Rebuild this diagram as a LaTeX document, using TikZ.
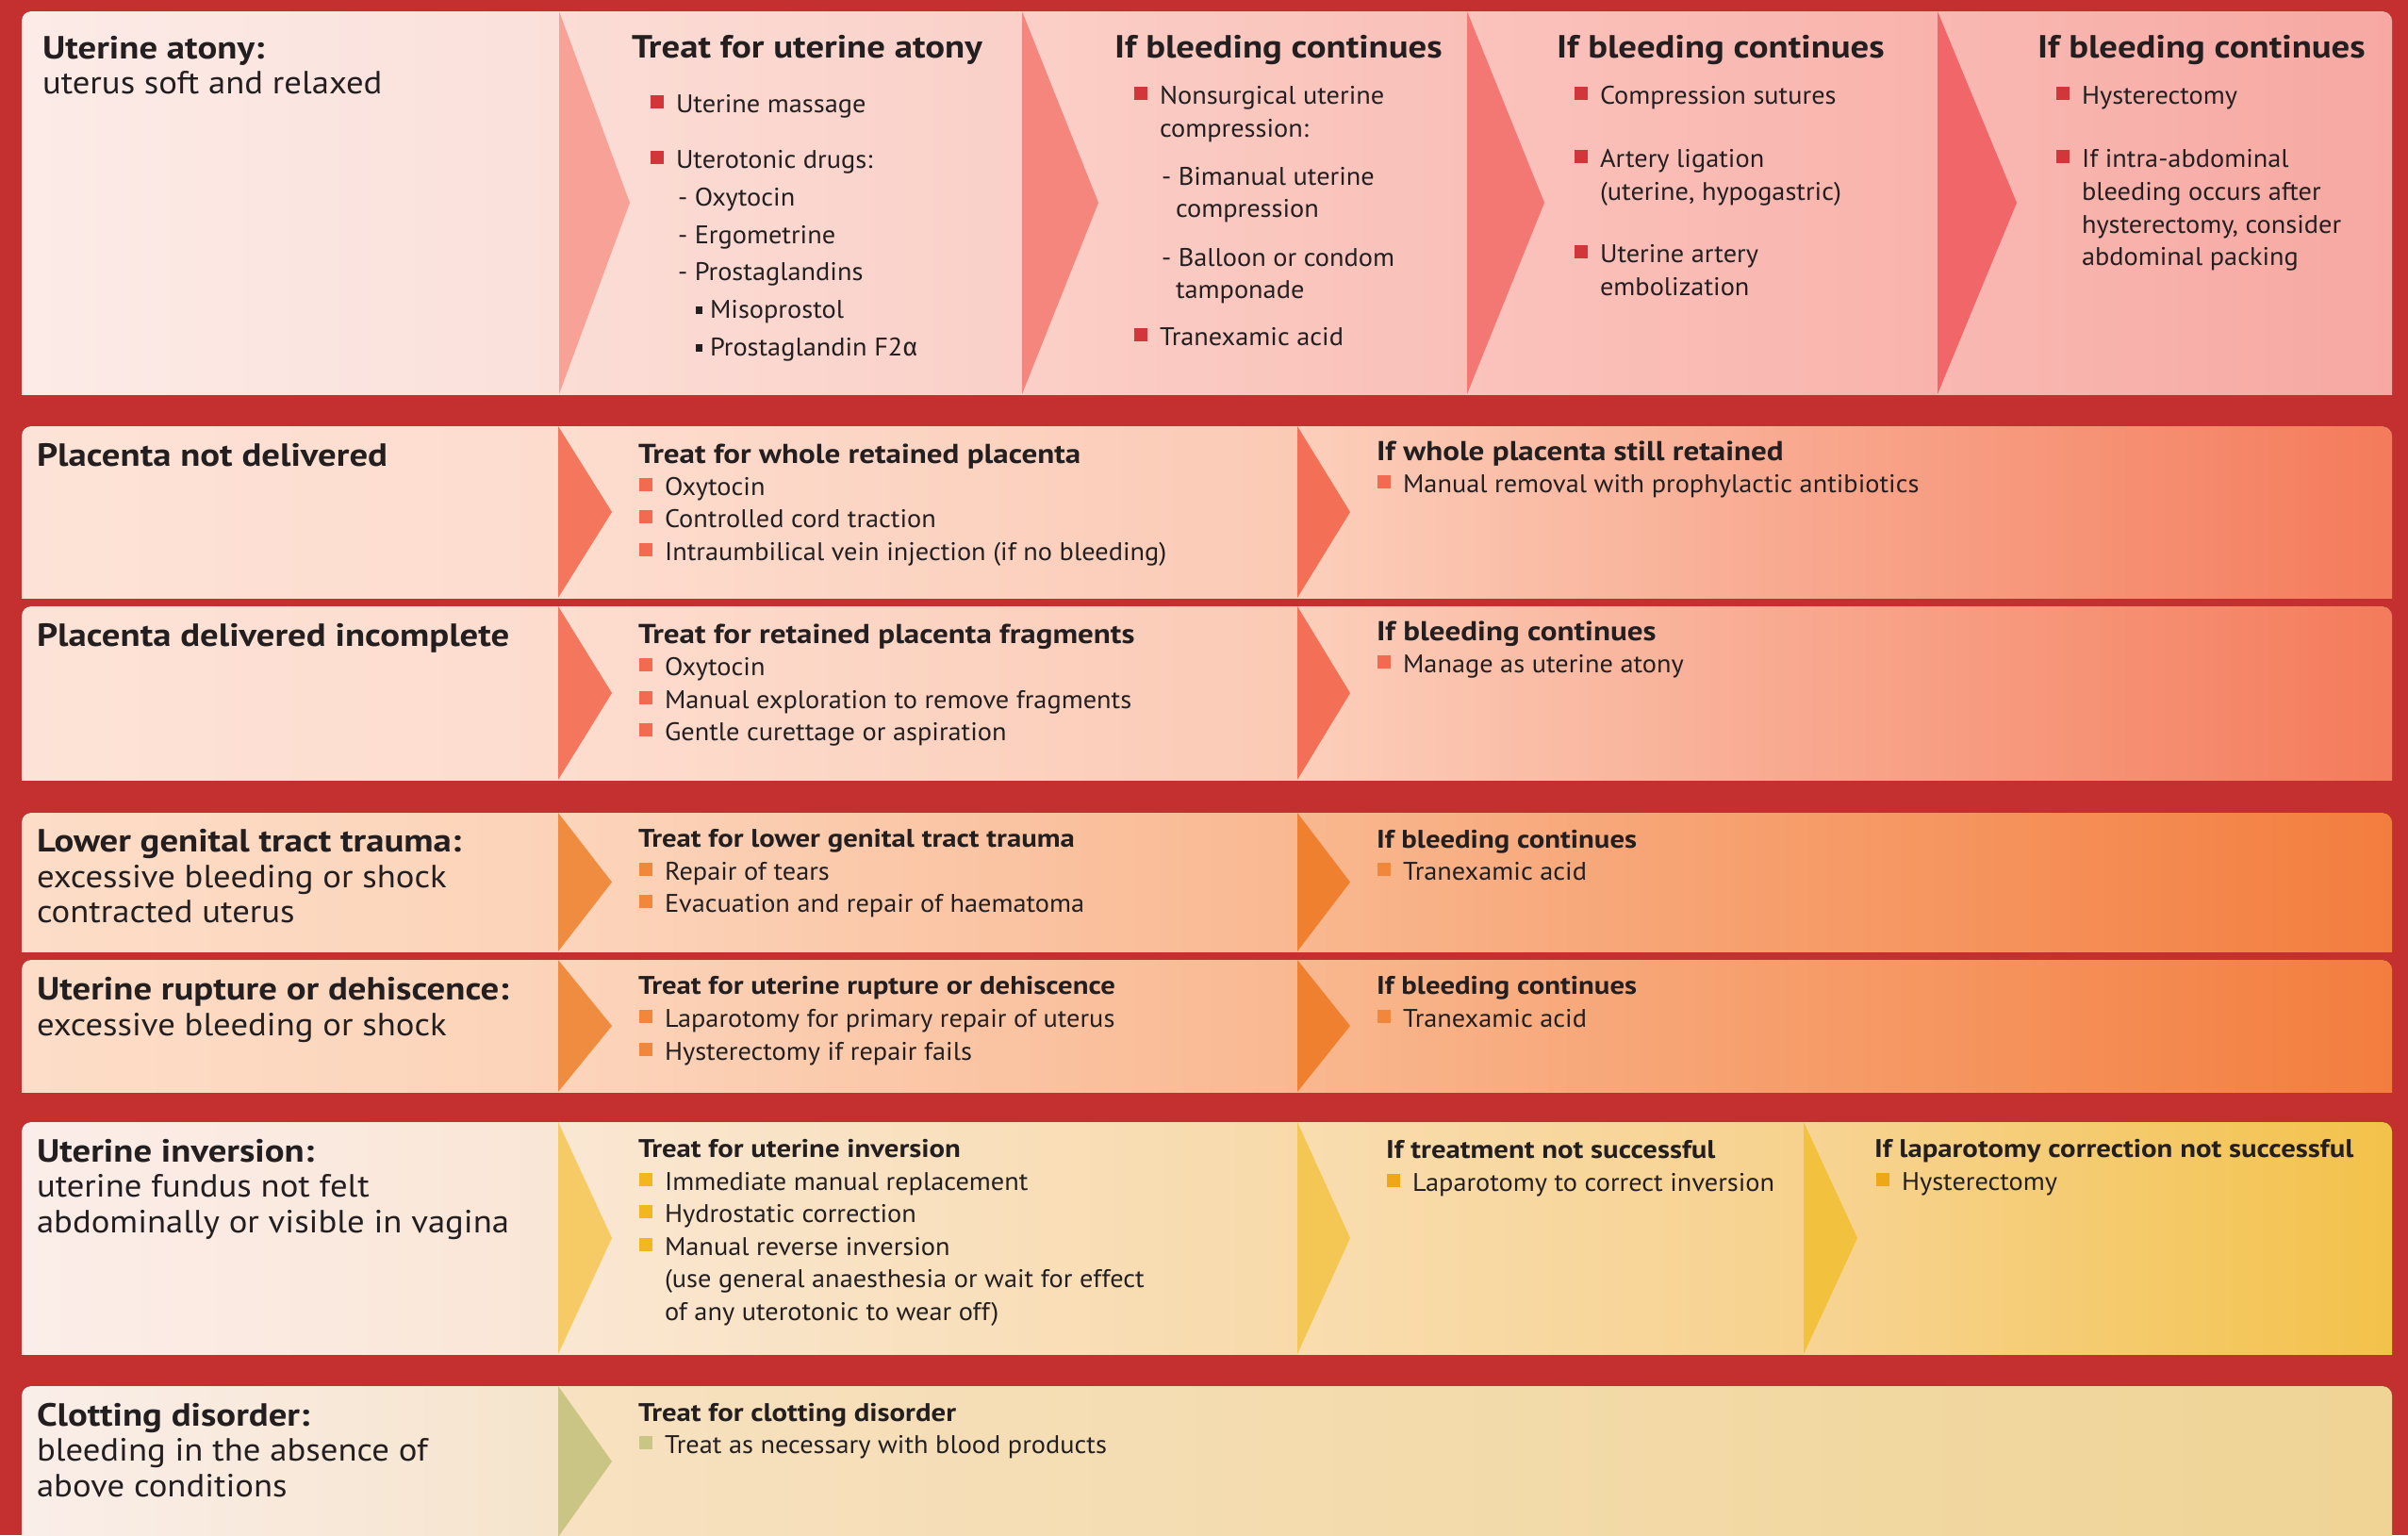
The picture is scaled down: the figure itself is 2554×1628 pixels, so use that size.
\documentclass[tikz,border=0pt]{standalone}
\usepackage{fontspec}
\setmainfont{PT Sans}
\newfontfamily\rgf{PT Sans}[FakeStretch=1.05]
\newfontfamily\sbf{PT Sans}[FakeStretch=1.08]
\newfontfamily\bdf{PT Sans}[FakeStretch=1.14]
\newfontfamily\grk{Fira Sans}
\usetikzlibrary{calc}
\definecolor{bgred}{HTML}{C4302F}
\definecolor{ink}{HTML}{231F20}
% row 1
\definecolor{ra1}{HTML}{FCEBE7}\definecolor{ra2}{HTML}{FBE0DA}
\definecolor{ra3}{HTML}{FBDDD6}\definecolor{ra4}{HTML}{FAD0C8}
\definecolor{ra5}{HTML}{FBCFC7}\definecolor{ra6}{HTML}{F9C0B8}
\definecolor{ra7}{HTML}{FAC3BC}\definecolor{ra8}{HTML}{F9B3AC}
\definecolor{ra9}{HTML}{F9B8B2}\definecolor{ra10}{HTML}{F7A8A2}
\definecolor{raA}{HTML}{F8A297}\definecolor{raB}{HTML}{F5867E}
\definecolor{raC}{HTML}{F37773}\definecolor{raD}{HTML}{F06669}
\definecolor{rbul}{HTML}{D2363A}
% rows 2-3
\definecolor{pa1}{HTML}{FDE3D7}\definecolor{pa2}{HTML}{FDDCCE}
\definecolor{pa3}{HTML}{FDDDCF}\definecolor{pa4}{HTML}{FBCAB5}
\definecolor{pa5}{HTML}{FCCFBB}\definecolor{pa6}{HTML}{F47B5B}
\definecolor{paA}{HTML}{F4765C}\definecolor{paB}{HTML}{F36F55}
\definecolor{pbul}{HTML}{F26B50}
% rows 4-5
\definecolor{oa1}{HTML}{FDDDC8}\definecolor{oa2}{HTML}{FCD3B8}
\definecolor{oa3}{HTML}{FCD5BC}\definecolor{oa4}{HTML}{F9B891}
\definecolor{oa5}{HTML}{F9B890}\definecolor{oa6}{HTML}{F37D3E}
\definecolor{oaA}{HTML}{F08C40}\definecolor{oaB}{HTML}{EF8030}
\definecolor{obul}{HTML}{F0873A}
% row 6
\definecolor{ya1}{HTML}{FBEDE9}\definecolor{ya2}{HTML}{FAE6D6}
\definecolor{ya3}{HTML}{FAE7D3}\definecolor{ya4}{HTML}{F8DAAA}
\definecolor{ya5}{HTML}{F9DDB0}\definecolor{ya6}{HTML}{F7D28E}
\definecolor{ya7}{HTML}{F7D495}\definecolor{ya8}{HTML}{F3C24A}
\definecolor{yaA}{HTML}{F6CA64}\definecolor{yaB}{HTML}{F4C653}\definecolor{yaC}{HTML}{F2C23E}
\definecolor{ybul}{HTML}{F2B61E}\definecolor{ybulb}{HTML}{EFA815}
% row 7
\definecolor{ga1}{HTML}{FAEEE9}\definecolor{ga2}{HTML}{F6E4CC}
\definecolor{ga3}{HTML}{F7E1C0}\definecolor{ga4}{HTML}{EFD495}
\definecolor{gaA}{HTML}{CAC585}\definecolor{gbul}{HTML}{C8C585}

\tikzset{
  txt/.style={inner sep=0pt, outer sep=0pt, anchor=base west, text=ink},
  ttl/.style={txt, font=\fontsize{34}{37}\selectfont\bdf\bfseries},
  sub/.style={txt, font=\fontsize{34}{37}\selectfont\sbf},
  hd/.style={txt, font=\fontsize{29}{32}\selectfont\bdf\bfseries},
  hds/.style={txt, font=\fontsize{27}{30}\selectfont\bdf\bfseries},
  bd/.style={txt, font=\fontsize{27}{30}\selectfont\rgf},
}
% panel: x1 x2 y1 y2 colL colR
\newcommand\pnl[6]{\fill[left color=#5,right color=#6] (#1,#3) rectangle (#2,#4);}
% arrow: xl xt y1 y2 col
\newcommand\arw[5]{\fill[#5] (#1,#3) -- (#2,{(#3+#4)/2}) -- (#1,#4) -- cycle;}
\newcommand\rowclip[2]{\clip (23,#1) rectangle (2537,#2);\clip[rounded corners=10pt] (23,#1) rectangle (2537,#2+30);}
% bullet item: name colour x y text
\newcommand\bit[5]{\node[bd] (#1) at (#3,#4) {#5};
  \fill[#2] ($(#1.base west)+(-27,-4)$) rectangle ++(14,-14);}
\newcommand\lin[4]{\node[bd] (#1) at (#2,#3) {#4};}
\newcommand\sbit[4]{\node[bd] (#1) at (#2,#3) {#4};
  \fill[ink] ($(#1.base west)+(-15,-4)$) rectangle ++(7,-8);}

\begin{document}
\begin{tikzpicture}[x=1pt,y=-1pt]
\useasboundingbox (0,0) rectangle (2554,1628);
\fill[bgred] (0,0) rectangle (2554,1628);

% ---------- Row 1 ----------
\begin{scope}
\rowclip{12}{418}
\pnl{23}{593}{12}{418}{ra1}{ra2}
\pnl{593}{1084}{12}{418}{ra3}{ra4}
\pnl{1084}{1556}{12}{418}{ra5}{ra6}
\pnl{1556}{2055}{12}{418}{ra7}{ra8}
\pnl{2055}{2537}{12}{418}{ra9}{ra10}
\arw{593}{668}{12}{418}{raA}
\arw{1084}{1165}{12}{418}{raB}
\arw{1556}{1638}{12}{418}{raC}
\arw{2055}{2139}{12}{418}{raD}
\end{scope}
\node[ttl] (t1) at (45,62) {Uterine atony:};
\node[sub] (t1b) at (45,99) {uterus soft and relaxed};
\node[ttl] (h1a) at (670,61) {Treat for uterine atony};
\bit{a1}{rbul}{717}{119}{Uterine massage}
\bit{a2}{rbul}{717}{178}{Uterotonic drugs:}
\lin{a3}{719}{218}{- Oxytocin}
\lin{a4}{719}{258}{- Ergometrine}
\lin{a5}{719}{297}{- Prostaglandins}
\sbit{a6}{753}{337}{Misoprostol}
\sbit{a7}{753}{377}{Prostaglandin F2{\grk α}}

\node[ttl] (h1b) at (1182,61) {If bleeding continues};
\bit{b1}{rbul}{1230}{110}{Nonsurgical uterine}
\lin{b2}{1230}{145}{compression:}
\lin{b3}{1232}{196}{- Bimanual uterine}
\lin{b4}{1247}{230}{compression}
\lin{b5}{1232}{282}{- Balloon or condom}
\lin{b6}{1247}{316}{tamponade}
\bit{b7}{rbul}{1230}{366}{Tranexamic acid}

\node[ttl] (h1c) at (1651,61) {If bleeding continues};
\bit{c1}{rbul}{1697}{110}{Compression sutures}
\bit{c2}{rbul}{1697}{177}{Artery ligation}
\lin{c3}{1697}{212}{(uterine, hypogastric)}
\bit{c4}{rbul}{1697}{278}{Uterine artery}
\lin{c5}{1697}{313}{embolization}

\node[ttl] (h1d) at (2161,61) {If bleeding continues};
\bit{d1}{rbul}{2208}{110}{Hysterectomy}
\bit{d2}{rbul}{2208}{177}{If intra-abdominal}
\lin{d3}{2208}{212}{bleeding occurs after}
\lin{d4}{2208}{247}{hysterectomy, consider}
\lin{d5}{2208}{281}{abdominal packing}

% ---------- Row 2 ----------
\begin{scope}
\rowclip{452}{634}
\pnl{23}{592}{452}{634}{pa1}{pa2}
\pnl{592}{1376}{452}{634}{pa3}{pa4}
\pnl{1376}{2537}{452}{634}{pa5}{pa6}
\arw{592}{649}{452}{634}{paA}
\arw{1376}{1432}{452}{634}{paB}
\end{scope}
\node[ttl] (t2) at (39,494) {Placenta not delivered};
\node[hd] (h2a) at (677,491) {Treat for whole retained placenta};
\bit{e1}{pbul}{705}{525}{Oxytocin}
\bit{e2}{pbul}{705}{559}{Controlled cord traction}
\bit{e3}{pbul}{705}{594}{Intraumbilical vein injection (if no bleeding)}
\node[hd] (h2b) at (1460,488) {If whole placenta still retained};
\bit{e4}{pbul}{1488}{522}{Manual removal with prophylactic antibiotics}

% ---------- Row 3 ----------
\begin{scope}
\rowclip{643}{827}
\pnl{23}{592}{643}{827}{pa1}{pa2}
\pnl{592}{1376}{643}{827}{pa3}{pa4}
\pnl{1376}{2537}{643}{827}{pa5}{pa6}
\arw{592}{649}{643}{827}{paA}
\arw{1376}{1432}{643}{827}{paB}
\end{scope}
\node[ttl] (t3) at (39,685) {Placenta delivered incomplete};
\node[hd] (h3a) at (677,682) {Treat for retained placenta fragments};
\bit{f1}{pbul}{705}{716}{Oxytocin}
\bit{f2}{pbul}{705}{751}{Manual exploration to remove fragments}
\bit{f3}{pbul}{705}{785}{Gentle curettage or aspiration}
\node[hd] (h3b) at (1460,679) {If bleeding continues};
\bit{f4}{pbul}{1488}{713}{Manage as uterine atony}

% ---------- Row 4 ----------
\begin{scope}
\rowclip{862}{1009}
\pnl{23}{592}{862}{1009}{oa1}{oa2}
\pnl{592}{1376}{862}{1009}{oa3}{oa4}
\pnl{1376}{2537}{862}{1009}{oa5}{oa6}
\arw{592}{649}{862}{1009}{oaA}
\arw{1376}{1432}{862}{1009}{oaB}
\end{scope}
\node[ttl] (t4) at (39,903) {Lower genital tract trauma:};
\node[sub] (t4b) at (39,941) {excessive bleeding or shock};
\node[sub] (t4c) at (39,978) {contracted uterus};
\node[hds] (h4a) at (677,898) {Treat for lower genital tract trauma};
\bit{g1}{obul}{705}{933}{Repair of tears}
\bit{g2}{obul}{705}{967}{Evacuation and repair of haematoma}
\node[hds] (h4b) at (1460,899) {If bleeding continues};
\bit{g3}{obul}{1488}{933}{Tranexamic acid}

% ---------- Row 5 ----------
\begin{scope}
\rowclip{1018}{1158}
\pnl{23}{592}{1018}{1158}{oa1}{oa2}
\pnl{592}{1376}{1018}{1158}{oa3}{oa4}
\pnl{1376}{2537}{1018}{1158}{oa5}{oa6}
\arw{592}{649}{1018}{1158}{oaA}
\arw{1376}{1432}{1018}{1158}{oaB}
\end{scope}
\node[ttl] (t5) at (39,1060) {Uterine rupture or dehiscence:};
\node[sub] (t5b) at (39,1098) {excessive bleeding or shock};
\node[hds] (h5a) at (677,1054) {Treat for uterine rupture or dehiscence};
\bit{k1}{obul}{705}{1089}{Laparotomy for primary repair of uterus}
\bit{k2}{obul}{705}{1124}{Hysterectomy if repair fails}
\node[hds] (h5b) at (1460,1054) {If bleeding continues};
\bit{k3}{obul}{1488}{1089}{Tranexamic acid}

% ---------- Row 6 ----------
\begin{scope}
\rowclip{1190}{1436}
\pnl{23}{592}{1190}{1436}{ya1}{ya2}
\pnl{592}{1376}{1190}{1436}{ya3}{ya4}
\pnl{1376}{1913}{1190}{1436}{ya5}{ya6}
\pnl{1913}{2537}{1190}{1436}{ya7}{ya8}
\arw{592}{649}{1190}{1436}{yaA}
\arw{1376}{1432}{1190}{1436}{yaB}
\arw{1913}{1970}{1190}{1436}{yaC}
\end{scope}
\node[ttl] (t6) at (39,1232) {Uterine inversion:};
\node[sub] (t6b) at (39,1269) {uterine fundus not felt};
\node[sub] (t6c) at (39,1307) {abdominally or visible in vagina};
\node[hds] (h6a) at (677,1227) {Treat for uterine inversion};
\bit{m1}{ybul}{705}{1262}{Immediate manual replacement}
\bit{m2}{ybul}{705}{1296}{Hydrostatic correction}
\bit{m3}{ybul}{705}{1331}{Manual reverse inversion}
\lin{m4}{705}{1365}{(use general anaesthesia or wait for effect}
\lin{m5}{705}{1400}{of any uterotonic to wear off)}
\node[hds] (h6b) at (1470,1228) {If treatment not successful};
\bit{m6}{ybulb}{1498}{1263}{Laparotomy to correct inversion}
\node[hds] (h6c) at (1988,1227) {If laparotomy correction not successful};
\bit{m7}{ybulb}{2017}{1262}{Hysterectomy}

% ---------- Row 7 ----------
\begin{scope}
\rowclip{1470}{1628}
\pnl{23}{592}{1470}{1628}{ga1}{ga2}
\pnl{592}{2537}{1470}{1628}{ga3}{ga4}
\arw{592}{649}{1470}{1630}{gaA}
\end{scope}
\node[ttl] (t7) at (39,1512) {Clotting disorder:};
\node[sub] (t7b) at (39,1549) {bleeding in the absence of};
\node[sub] (t7c) at (39,1587) {above conditions};
\node[hds] (h7a) at (677,1507) {Treat for clotting disorder};
\bit{n1}{gbul}{705}{1541}{Treat as necessary with blood products}
\end{tikzpicture}
\end{document}
